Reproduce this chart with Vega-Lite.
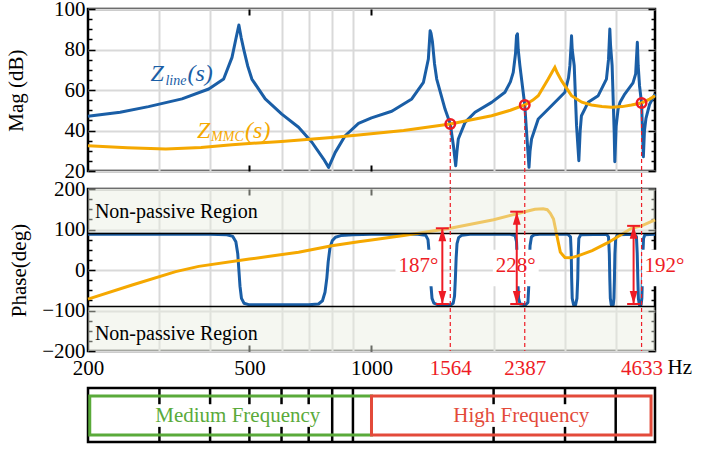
{
  "$schema": "https://vega.github.io/schema/vega-lite/v6.json",
  "autosize": {"type": "pad"},
  "padding": {"left": 4, "top": -4, "right": 0, "bottom": 6},
  "background": "white",
  "config": {
    "font": "Liberation Serif",
    "view": {"stroke": "black", "strokeWidth": 2.5},
    "axis": {"labelFont": "Liberation Serif", "titleFont": "Liberation Serif", "labelFontSize": 21, "titleFontSize": 21, "titleFontWeight": "normal", "labelColor": "black", "titleColor": "black", "gridColor": "#d9d9d9", "gridWidth": 2, "domain": false, "tickColor": "black"}
  },
  "datasets": {
    "zline_mag": [
      {"f":200,"db":47.0},{"f":240,"db":49.0},{"f":282,"db":51.8},{"f":341,"db":55.6},{"f":397,"db":60.5},{"f":432,"db":65.4},{"f":453,"db":76.1},{"f":463,"db":85.2},{"f":471,"db":92.1},{"f":477,"db":86.0},{"f":484,"db":80.2},{"f":495,"db":72.0},{"f":507,"db":65.4},{"f":547,"db":55.6},{"f":601,"db":48.1},{"f":661,"db":41.6},{"f":713,"db":34.2},{"f":762,"db":25.9},{"f":784,"db":21.8},{"f":814,"db":29.2},{"f":861,"db":37.4},{"f":929,"db":43.5},{"f":1000,"db":46.2},{"f":1122,"db":49.5},{"f":1257,"db":55.6},{"f":1343,"db":63.8},{"f":1381,"db":75.3},{"f":1395,"db":89.3},{"f":1402,"db":88.0},{"f":1413,"db":84.0},{"f":1430,"db":73.0},{"f":1448,"db":65.4},{"f":1518,"db":50.6},{"f":1564,"db":43.2},{"f":1592,"db":32.5},{"f":1613,"db":22.6},{"f":1625,"db":30.0},{"f":1637,"db":35.8},{"f":1701,"db":44.0},{"f":1800,"db":49.0},{"f":1978,"db":53.9},{"f":2133,"db":58.9},{"f":2200,"db":64.0},{"f":2236,"db":68.7},{"f":2265,"db":78.0},{"f":2278,"db":86.8},{"f":2290,"db":87.7},{"f":2300,"db":80.0},{"f":2322,"db":72.0},{"f":2387,"db":52.6},{"f":2412,"db":39.1},{"f":2445,"db":21.8},{"f":2460,"db":30.0},{"f":2481,"db":35.8},{"f":2577,"db":45.7},{"f":2779,"db":52.2},{"f":2998,"db":58.9},{"f":3060,"db":66.0},{"f":3084,"db":72.0},{"f":3105,"db":82.0},{"f":3113,"db":86.8},{"f":3125,"db":80.0},{"f":3161,"db":72.0},{"f":3203,"db":42.4},{"f":3245,"db":25.1},{"f":3270,"db":40.0},{"f":3293,"db":47.3},{"f":3421,"db":53.9},{"f":3622,"db":57.2},{"f":3795,"db":65.4},{"f":3840,"db":75.0},{"f":3869,"db":90.1},{"f":3885,"db":82.0},{"f":3920,"db":72.0},{"f":3966,"db":39.1},{"f":3980,"db":24.6},{"f":4010,"db":42.0},{"f":4055,"db":50.6},{"f":4100,"db":54.0},{"f":4211,"db":58.0},{"f":4413,"db":63.5},{"f":4480,"db":68.0},{"f":4523,"db":83.6},{"f":4545,"db":72.0},{"f":4580,"db":62.0},{"f":4633,"db":53.6},{"f":4680,"db":27.0},{"f":4710,"db":40.0},{"f":4750,"db":46.0},{"f":4850,"db":53.0},{"f":5000,"db":58.0}
    ],
    "zmmc_mag": [
      {"f":200,"db":32.5},{"f":250,"db":31.5},{"f":311,"db":30.9},{"f":380,"db":31.6},{"f":453,"db":33.0},{"f":600,"db":34.6},{"f":798,"db":36.6},{"f":929,"db":37.8},{"f":1200,"db":40.0},{"f":1564,"db":43.2},{"f":1978,"db":47.3},{"f":2200,"db":50.0},{"f":2387,"db":52.6},{"f":2500,"db":55.0},{"f":2577,"db":57.2},{"f":2727,"db":65.4},{"f":2800,"db":69.5},{"f":2832,"db":71.2},{"f":2870,"db":68.5},{"f":2941,"db":64.6},{"f":3113,"db":57.2},{"f":3300,"db":54.0},{"f":3485,"db":52.6},{"f":3700,"db":51.8},{"f":3904,"db":51.5},{"f":4150,"db":51.8},{"f":4375,"db":52.6},{"f":4633,"db":53.6},{"f":4850,"db":55.5},{"f":5000,"db":57.2}
    ],
    "zline_ph": [
      {"f":200,"deg":88},{"f":400,"deg":88},{"f":440,"deg":87},{"f":455,"deg":83},{"f":463,"deg":70},{"f":468,"deg":40},{"f":471,"deg":0},{"f":474,"deg":-40},{"f":478,"deg":-70},{"f":485,"deg":-82},{"f":500,"deg":-86},{"f":700,"deg":-86},{"f":740,"deg":-84},{"f":757,"deg":-76},{"f":768,"deg":-55},{"f":776,"deg":-20},{"f":782,"deg":20},{"f":790,"deg":55},{"f":800,"deg":72},{"f":815,"deg":81},{"f":840,"deg":85},{"f":900,"deg":87},{"f":1000,"deg":88},{"f":1300,"deg":88},{"f":1360,"deg":86},{"f":1378,"deg":75},{"f":1388,"deg":40},{"f":1395,"deg":0},{"f":1402,"deg":-40},{"f":1410,"deg":-70},{"f":1425,"deg":-82},{"f":1460,"deg":-86},{"f":1570,"deg":-86},{"f":1590,"deg":-82},{"f":1602,"deg":-65},{"f":1610,"deg":-20},{"f":1617,"deg":30},{"f":1625,"deg":65},{"f":1640,"deg":80},{"f":1670,"deg":86},{"f":1750,"deg":88},{"f":2200,"deg":88},{"f":2260,"deg":85},{"f":2278,"deg":70},{"f":2288,"deg":20},{"f":2295,"deg":-30},{"f":2305,"deg":-70},{"f":2325,"deg":-84},{"f":2400,"deg":-86},{"f":2430,"deg":-80},{"f":2442,"deg":-40},{"f":2450,"deg":20},{"f":2460,"deg":60},{"f":2480,"deg":82},{"f":2520,"deg":87},{"f":2600,"deg":88},{"f":3050,"deg":88},{"f":3095,"deg":82},{"f":3108,"deg":40},{"f":3115,"deg":-20},{"f":3125,"deg":-70},{"f":3150,"deg":-86},{"f":3185,"deg":-86},{"f":3210,"deg":-70},{"f":3225,"deg":-20},{"f":3233,"deg":40},{"f":3245,"deg":78},{"f":3280,"deg":87},{"f":3800,"deg":88},{"f":3840,"deg":82},{"f":3858,"deg":40},{"f":3868,"deg":-20},{"f":3880,"deg":-70},{"f":3900,"deg":-86},{"f":3945,"deg":-86},{"f":3960,"deg":-70},{"f":3972,"deg":-20},{"f":3982,"deg":40},{"f":4000,"deg":78},{"f":4040,"deg":87},{"f":4450,"deg":88},{"f":4500,"deg":82},{"f":4520,"deg":40},{"f":4535,"deg":-20},{"f":4550,"deg":-70},{"f":4575,"deg":-86},{"f":4620,"deg":-86},{"f":4640,"deg":-70},{"f":4655,"deg":-20},{"f":4668,"deg":40},{"f":4685,"deg":78},{"f":4720,"deg":87},{"f":5000,"deg":88}
    ],
    "zmmc_ph": [
      {"f":200,"deg":-72},{"f":257,"deg":-37},{"f":329,"deg":-4},{"f":375,"deg":9},{"f":500,"deg":27},{"f":661,"deg":44},{"f":798,"deg":60},{"f":929,"deg":70},{"f":1000,"deg":74},{"f":1200,"deg":85},{"f":1564,"deg":103},{"f":2000,"deg":124},{"f":2387,"deg":144},{"f":2529,"deg":150},{"f":2650,"deg":151},{"f":2712,"deg":149},{"f":2760,"deg":140},{"f":2810,"deg":126},{"f":2864,"deg":85},{"f":2921,"deg":44},{"f":2998,"deg":31},{"f":3100,"deg":30},{"f":3230,"deg":35},{"f":3500,"deg":48},{"f":3836,"deg":68},{"f":4375,"deg":103},{"f":4633,"deg":109},{"f":5000,"deg":124}
    ],
    "ann": [
      {"f":1564,"mag":43.2,"top":103,"bot":-84,"af":1495,"cl":1441,"cr":1551,"label":"187°","lf":1305,"bl":1146,"br":1486},
      {"f":2387,"mag":52.6,"top":144,"bot":-84,"af":2281,"cl":2198,"cr":2367,"label":"228°","lf":2268,"bl":1991,"br":2583},
      {"f":4633,"mag":53.6,"top":109,"bot":-84,"af":4428,"cl":4268,"cr":4594,"label":"192°","lf":5278,"bl":4634,"br":6011}
    ]
  },
  "vconcat": [
    {
      "width": 567, "height": 162,
      "resolve": {"axis": {"x": "independent", "y": "independent"}},
      "layer": [
        {"data": {"name": "zline_mag"}, "mark": {"type": "line", "color": "#1a5ea6", "strokeWidth": 3, "strokeJoin": "round"},
         "encoding": {
           "x": {"field": "f", "type": "quantitative", "scale": {"type": "log", "domain": [200, 5000], "nice": false},
                 "axis": {"orient": "bottom", "values": [500, 1000], "labels": false, "grid": false, "ticks": true, "tickSize": -6, "tickWidth": 2, "title": null}},
           "y": {"field": "db", "type": "quantitative", "scale": {"domain": [20, 100], "nice": false, "zero": false},
                 "axis": {"orient": "left", "values": [20,25,30,35,40,45,50,55,60,65,70,75,80,85,90,95,100], "labelExpr": "datum.value % 20 === 0 ? datum.label : ''", "labelOverlap": false, "labelFlush": false,
                          "tickSize": {"condition": {"test": "datum.value % 20 === 0", "value": -7}, "value": -4}, "tickWidth": 1.5,
                          "grid": true, "gridOpacity": {"condition": {"test": "datum.value % 20 === 0", "value": 1}, "value": 0},
                          "labelPadding": 10, "title": "Mag (dB)", "titlePadding": 27}}
         }},
        {"data": {"name": "zmmc_mag"}, "mark": {"type": "line", "color": "#f5a800", "strokeWidth": 3},
         "encoding": {
           "x": {"field": "f", "type": "quantitative", "scale": {"type": "log", "domain": [200, 5000], "nice": false},
                 "axis": {"orient": "top", "values": [300,400,500,600,700,800,900,1000,2000,3000,4000], "labels": false, "grid": true,
                          "gridOpacity": {"condition": {"test": "datum.value === 500 || datum.value === 1000", "value": 0}, "value": 1},
                          "ticks": true, "tickSize": -6, "tickWidth": 2,
                          "tickOpacity": {"condition": {"test": "datum.value === 500 || datum.value === 1000", "value": 1}, "value": 0}, "title": null}},
           "y": {"field": "db", "type": "quantitative",
                 "axis": {"orient": "right", "values": [20,25,30,35,40,45,50,55,60,65,70,75,80,85,90,95,100], "labels": false, "grid": false,
                          "tickSize": {"condition": {"test": "datum.value % 20 === 0", "value": -7}, "value": -4}, "tickWidth": 1.5, "title": null}}
         }},
        {"data": {"name": "ann"}, "mark": {"type": "rule", "color": "#ee1c25", "strokeWidth": 1.2, "strokeDash": [4, 3]},
         "encoding": {"x": {"field": "f", "type": "quantitative", "axis": null}, "y": {"field": "mag", "type": "quantitative", "axis": null}, "y2": {"datum": 11}}},
        {"data": {"name": "ann"}, "mark": {"type": "point", "shape": "circle", "filled": false, "color": "#ee1c25", "strokeWidth": 2.5, "size": 90, "opacity": 1},
         "encoding": {"x": {"field": "f", "type": "quantitative", "axis": null}, "y": {"field": "mag", "type": "quantitative", "axis": null}}},
        {"data": {"values": [{"f": 285, "db": 64.6}]},
         "encoding": {"x": {"field": "f", "type": "quantitative", "axis": null}, "y": {"field": "db", "type": "quantitative", "axis": null}},
         "layer": [
           {"mark": {"type": "text", "text": "Z", "align": "left", "baseline": "alphabetic", "fontSize": 24, "fontStyle": "italic", "color": "#1a5ea6"}},
           {"mark": {"type": "text", "text": "line", "align": "left", "baseline": "alphabetic", "fontSize": 14, "fontStyle": "italic", "color": "#1a5ea6", "dx": 15, "dy": 4}},
           {"mark": {"type": "text", "text": "(s)", "align": "left", "baseline": "alphabetic", "fontSize": 24, "fontStyle": "italic", "color": "#1a5ea6", "dx": 37}}
         ]},
        {"data": {"values": [{"f": 371.5, "db": 36.1}]},
         "encoding": {"x": {"field": "f", "type": "quantitative", "axis": null}, "y": {"field": "db", "type": "quantitative", "axis": null}},
         "layer": [
           {"mark": {"type": "text", "text": "Z", "align": "left", "baseline": "alphabetic", "fontSize": 24, "fontStyle": "italic", "color": "#f5a800"}},
           {"mark": {"type": "text", "text": "MMC", "align": "left", "baseline": "alphabetic", "fontSize": 14, "fontStyle": "italic", "color": "#f5a800", "dx": 14, "dy": 3}},
           {"mark": {"type": "text", "text": "(s)", "align": "left", "baseline": "alphabetic", "fontSize": 24, "fontStyle": "italic", "color": "#f5a800", "dx": 48}}
         ]}
      ]
    },
    {
      "width": 567, "height": 162,
      "resolve": {"axis": {"x": "independent", "y": "independent"}},
      "layer": [
        {"data": {"name": "zline_ph"}, "mark": {"type": "line", "color": "#1a5ea6", "strokeWidth": 3, "strokeJoin": "round"},
         "encoding": {
           "x": {"field": "f", "type": "quantitative", "scale": {"type": "log", "domain": [200, 5000], "nice": false},
                 "axis": {"orient": "bottom", "values": [200, 500, 1000, 1564, 2387, 4633], "format": "d", "labelOverlap": false, "labelFlush": false,
                          "labelColor": {"condition": {"test": "datum.value > 1100", "value": "#ee1c25"}, "value": "black"},
                          "grid": false, "ticks": true, "tickSize": -6, "tickWidth": 2,
                          "tickOpacity": {"condition": {"test": "datum.value === 500 || datum.value === 1000", "value": 1}, "value": 0},
                          "labelPadding": 12, "title": null}},
           "y": {"field": "deg", "type": "quantitative", "scale": {"domain": [-200, 200], "nice": false, "zero": false},
                 "axis": {"orient": "left", "values": [-200,-175,-150,-125,-100,-75,-50,-25,0,25,50,75,100,125,150,175,200], "labelExpr": "datum.value % 100 === 0 ? datum.label : ''", "labelOverlap": false, "labelFlush": false,
                          "tickSize": {"condition": {"test": "datum.value % 100 === 0", "value": -7}, "value": -4}, "tickWidth": 1.5,
                          "grid": true, "gridOpacity": {"condition": {"test": "datum.value % 100 === 0", "value": 1}, "value": 0},
                          "labelPadding": 10, "title": "Phase(deg)", "titlePadding": 12}}
         }},
        {"data": {"name": "zmmc_ph"}, "mark": {"type": "line", "color": "#f5a800", "strokeWidth": 3},
         "encoding": {
           "x": {"field": "f", "type": "quantitative", "scale": {"type": "log", "domain": [200, 5000], "nice": false},
                 "axis": {"orient": "top", "values": [300,400,500,600,700,800,900,1000,2000,3000,4000], "labels": false, "grid": true,
                          "gridOpacity": {"condition": {"test": "datum.value === 500 || datum.value === 1000", "value": 0}, "value": 1},
                          "ticks": true, "tickSize": -6, "tickWidth": 2,
                          "tickOpacity": {"condition": {"test": "datum.value === 500 || datum.value === 1000", "value": 1}, "value": 0}, "title": null}},
           "y": {"field": "deg", "type": "quantitative",
                 "axis": {"orient": "right", "values": [-200,-175,-150,-125,-100,-75,-50,-25,0,25,50,75,100,125,150,175,200], "labels": false, "grid": false,
                          "tickSize": {"condition": {"test": "datum.value % 100 === 0", "value": -7}, "value": -4}, "tickWidth": 1.5, "title": null}}
         }},
        {"data": {"values": [{"lo": 90, "hi": 200}, {"lo": -200, "hi": -90}]},
         "mark": {"type": "rect", "color": "#e8eddf", "opacity": 0.45},
         "encoding": {"x": {"datum": 200, "type": "quantitative", "axis": null}, "x2": {"datum": 5000},
                      "y": {"field": "lo", "type": "quantitative", "axis": null}, "y2": {"field": "hi"}}},
        {"data": {"values": [{"v": 90}, {"v": -90}]},
         "mark": {"type": "rule", "color": "black", "strokeWidth": 1.5},
         "encoding": {"x": {"datum": 200, "type": "quantitative", "axis": null}, "x2": {"datum": 5000},
                      "y": {"field": "v", "type": "quantitative", "axis": null}}},
        {"data": {"name": "ann"}, "mark": {"type": "rect", "color": "white"},
         "encoding": {"x": {"field": "bl", "type": "quantitative", "axis": null}, "x2": {"field": "br"},
                      "y": {"datum": 50, "type": "quantitative", "axis": null}, "y2": {"datum": -40}}},
        {"data": {"name": "ann"}, "mark": {"type": "rule", "color": "#ee1c25", "strokeWidth": 1.2, "strokeDash": [4, 3]},
         "encoding": {"x": {"field": "f", "type": "quantitative", "axis": null}, "y": {"datum": 200, "type": "quantitative", "axis": null}, "y2": {"datum": -200}}},
        {"data": {"name": "ann"}, "mark": {"type": "rule", "color": "#ee1c25", "strokeWidth": 2},
         "encoding": {"x": {"field": "af", "type": "quantitative", "axis": null}, "y": {"field": "top", "type": "quantitative", "axis": null}, "y2": {"field": "bot"}}},
        {"data": {"name": "ann"}, "mark": {"type": "rule", "color": "#ee1c25", "strokeWidth": 2},
         "encoding": {"x": {"field": "cl", "type": "quantitative", "axis": null}, "x2": {"field": "cr"}, "y": {"field": "top", "type": "quantitative", "axis": null}}},
        {"data": {"name": "ann"}, "mark": {"type": "rule", "color": "#ee1c25", "strokeWidth": 2},
         "encoding": {"x": {"field": "cl", "type": "quantitative", "axis": null}, "x2": {"field": "cr"}, "y": {"field": "bot", "type": "quantitative", "axis": null}}},
        {"data": {"name": "ann"}, "mark": {"type": "point", "shape": "M0,-1L0.6,1L-0.6,1Z", "filled": true, "color": "#ee1c25", "size": 169, "opacity": 1, "yOffset": 6.5},
         "encoding": {"x": {"field": "af", "type": "quantitative", "axis": null}, "y": {"field": "top", "type": "quantitative", "axis": null}}},
        {"data": {"name": "ann"}, "mark": {"type": "point", "shape": "M0,1L0.6,-1L-0.6,-1Z", "filled": true, "color": "#ee1c25", "size": 169, "opacity": 1, "yOffset": -6.5},
         "encoding": {"x": {"field": "af", "type": "quantitative", "axis": null}, "y": {"field": "bot", "type": "quantitative", "axis": null}}},
        {"data": {"name": "ann"}, "mark": {"type": "text", "color": "#ee1c25", "fontSize": 21, "align": "center", "baseline": "alphabetic"},
         "encoding": {"x": {"field": "lf", "type": "quantitative", "axis": null}, "y": {"datum": -6, "type": "quantitative", "axis": null}, "text": {"field": "label"}}},
        {"data": {"values": [{"f": 208, "deg": 128, "t": "Non-passive Region"}, {"f": 208, "deg": -173, "t": "Non-passive Region"}]},
         "mark": {"type": "text", "color": "black", "fontSize": 20, "align": "left", "baseline": "alphabetic"},
         "encoding": {"x": {"field": "f", "type": "quantitative", "axis": null}, "y": {"field": "deg", "type": "quantitative", "axis": null}, "text": {"field": "t"}}},
        {"data": {"values": [{"f": 5757, "deg": -257, "t": "Hz"}]},
         "mark": {"type": "text", "color": "black", "fontSize": 21, "align": "center", "baseline": "alphabetic"},
         "encoding": {"x": {"field": "f", "type": "quantitative", "axis": null}, "y": {"field": "deg", "type": "quantitative", "axis": null}, "text": {"field": "t"}}}
      ]
    },
    {
      "width": 567, "height": 73,
      "view": {"stroke": null},
      "layer": [
        {"data": {"values": [{"f": 800}, {"f": 900}, {"f": 4000}]},
         "mark": {"type": "rule", "color": "black", "strokeWidth": 2.5},
         "encoding": {"x": {"field": "f", "type": "quantitative", "scale": {"type": "log", "domain": [200, 5000], "nice": false}, "axis": null},
                      "y": {"datum": 0, "type": "quantitative", "scale": {"domain": [0, 1.352], "nice": false}, "axis": null}, "y2": {"datum": 1}}},
        {"data": {"values": [{"f": 300}, {"f": 400}, {"f": 500}, {"f": 600}, {"f": 700}, {"f": 2000}, {"f": 3000}]},
         "mark": {"type": "rule", "color": "black", "strokeWidth": 2.5},
         "encoding": {"x": {"field": "f", "type": "quantitative", "axis": null}, "y": {"datum": 0.7, "type": "quantitative", "axis": null}, "y2": {"datum": 1}}},
        {"data": {"values": [{"f": 300}, {"f": 400}, {"f": 500}, {"f": 600}, {"f": 700}, {"f": 2000}, {"f": 3000}]},
         "mark": {"type": "rule", "color": "black", "strokeWidth": 2.5},
         "encoding": {"x": {"field": "f", "type": "quantitative", "axis": null}, "y": {"datum": 0, "type": "quantitative", "axis": null}, "y2": {"datum": 0.28}}},
        {"data": {"values": [{"lo": 200, "hi": 5000}]},
         "mark": {"type": "rect", "fillOpacity": 0, "stroke": "black", "strokeWidth": 2.5},
         "encoding": {"x": {"field": "lo", "type": "quantitative", "axis": null}, "x2": {"field": "hi"}, "y": {"datum": 0, "type": "quantitative", "axis": null}, "y2": {"datum": 1}}},
        {"data": {"values": [{"lo": 202, "hi": 1000}]},
         "mark": {"type": "rect", "fillOpacity": 0, "stroke": "#5aaa3a", "strokeWidth": 3},
         "encoding": {"x": {"field": "lo", "type": "quantitative", "axis": null}, "x2": {"field": "hi"}, "y": {"datum": 0.13, "type": "quantitative", "axis": null}, "y2": {"datum": 0.852}}},
        {"data": {"values": [{"lo": 1000, "hi": 4889}]},
         "mark": {"type": "rect", "fillOpacity": 0, "stroke": "#e34a3a", "strokeWidth": 3},
         "encoding": {"x": {"field": "lo", "type": "quantitative", "axis": null}, "x2": {"field": "hi"}, "y": {"datum": 0.13, "type": "quantitative", "axis": null}, "y2": {"datum": 0.852}}},
        {"data": {"values": [{"f": 468, "t": "Medium Frequency", "c": "g"}, {"f": 2340, "t": "High Frequency", "c": "r"}]},
         "mark": {"type": "text", "fontSize": 21, "align": "center", "baseline": "middle"},
         "encoding": {"x": {"field": "f", "type": "quantitative", "axis": null}, "y": {"datum": 0.49, "type": "quantitative", "axis": null}, "text": {"field": "t"},
                      "color": {"field": "c", "type": "nominal", "scale": {"domain": ["g", "r"], "range": ["#5aaa3a", "#e34a3a"]}, "legend": null}}}
      ]
    }
  ],
  "spacing": 18,
  "bounds": "flush"
}
